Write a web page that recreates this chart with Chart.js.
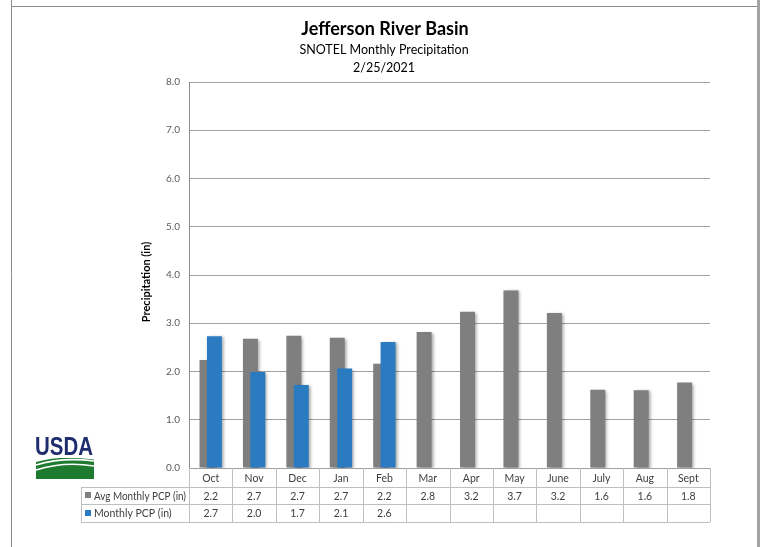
<!DOCTYPE html>
<html>
<head>
<meta charset="utf-8">
<title>Jefferson River Basin</title>
<script src="https://cdn.jsdelivr.net/npm/chart.js@4.4.1/dist/chart.umd.min.js"></script>
<style>
  html, body { margin: 0; padding: 0; background: #fff; }
  #wrap { width: 763px; height: 547px; position: relative; }
</style>
</head>
<body>
<div id="wrap"><canvas id="chart-precip" width="763" height="547"></canvas></div>
<script>
'use strict';

/* ─── Données ─────────────────────────────────────────────── */
var months     = ['Oct', 'Nov', 'Dec', 'Jan', 'Feb', 'Mar', 'Apr', 'May', 'June', 'July', 'Aug', 'Sept'];
var avgPcp     = [2.24, 2.68, 2.74, 2.70, 2.16, 2.82, 3.24, 3.68, 3.21, 1.62, 1.61, 1.77];
var monthlyPcp = [2.73, 1.99, 1.72, 2.06, 2.61, null, null, null, null, null, null, null];
var rowLabels  = ['Avg Monthly PCP (in)', 'Monthly PCP (in)'];
var titleText  = 'Jefferson River Basin';
var subTitles  = ['SNOTEL Monthly Precipitation', '2/25/2021'];
var yTitle     = 'Precipitation (in)';
var yMin = 0, yMax = 8, yStep = 1;

var GREY = '#7f7f7f';
var BLUE = '#2b7bc1';
var FONT = 'Lato, "Open Sans", sans-serif';
/* décalage des barres (fraction de catégorie) : gris à gauche, bleu à droite */
var SHIFT = 0.085;

/* points {x: index du mois, y: valeur} construits à partir des tableaux */
function toPoints(arr) {
  var pts = [];
  for (var i = 0; i < arr.length; i++) {
    if (arr[i] !== null) { pts.push({ x: i, y: arr[i] }); }
  }
  return pts;
}

/* ─── Ombre des barres ────────────────────────────────────── */
var barShadow = {
  id: 'barShadow',
  beforeDatasetsDraw: function(chart) {
    var ctx = chart.ctx;
    ctx.save();
    ctx.shadowColor = 'rgba(0,0,0,0.35)';
    ctx.shadowBlur = 3;
    ctx.shadowOffsetX = 2;
    ctx.shadowOffsetY = 1;
  },
  afterDatasetsDraw: function(chart) { chart.ctx.restore(); }
};

/* ─── Titres, cadre, logo, tableau de données ─────────────── */
var decor = {
  id: 'decor',
  beforeDraw: function(chart) {
    var ctx = chart.ctx;
    ctx.save();
    ctx.fillStyle = '#fff';
    ctx.fillRect(0, 0, chart.width, chart.height);
    ctx.restore();
  },
  afterDraw: function(chart) {
    var ctx = chart.ctx;
    var area = chart.chartArea;
    var xs = chart.scales.xm;
    var colW = area.width / months.length;
    var i;

    ctx.save();
    /* cadre */
    ctx.strokeStyle = '#8c8c8c';
    ctx.lineWidth = 1;
    ctx.beginPath();
    ctx.moveTo(11.5, 0); ctx.lineTo(11.5, chart.height);
    ctx.moveTo(11, 6.5); ctx.lineTo(757, 6.5);
    ctx.stroke();
    ctx.strokeStyle = '#a3a3a3';
    ctx.lineWidth = 3;
    ctx.beginPath();
    ctx.moveTo(758.5, 0); ctx.lineTo(758.5, chart.height);
    ctx.stroke();

    /* titres */
    ctx.fillStyle = '#000';
    ctx.textAlign = 'center';
    ctx.textBaseline = 'middle';
    ctx.font = 'bold 18px ' + FONT;
    ctx.fillText(titleText, 385, 29);
    ctx.font = '12.5px ' + FONT;
    ctx.fillText(subTitles[0], 384, 50);
    ctx.fillText(subTitles[1], 384, 68);

    /* titre axe Y */
    ctx.save();
    ctx.translate(146.5, 282);
    ctx.rotate(-Math.PI / 2);
    ctx.font = 'bold 11px ' + FONT;
    ctx.fillText(yTitle, 0, 0);
    ctx.restore();

    /* tableau */
    var top = area.bottom;
    var rows = [top, top + 18.5, top + 36, top + 53.5];
    var tLeft = 81;
    ctx.strokeStyle = '#bfbfbf';
    ctx.lineWidth = 1;
    ctx.beginPath();
    for (i = 1; i < 4; i++) {
      ctx.moveTo(tLeft, Math.round(rows[i]) + 0.5); ctx.lineTo(area.right, Math.round(rows[i]) + 0.5);
    }
    ctx.moveTo(tLeft + 0.5, Math.round(rows[1])); ctx.lineTo(tLeft + 0.5, Math.round(rows[3]));
    for (i = 0; i <= months.length; i++) {
      var bx = Math.round(xs.getPixelForValue(Math.min(i, months.length - 1)) + (i === months.length ? colW / 2 : -colW / 2)) + 0.5;
      ctx.moveTo(bx, top); ctx.lineTo(bx, Math.round(rows[3]));
    }
    ctx.stroke();

    ctx.fillStyle = '#404040';
    ctx.textAlign = 'center';
    ctx.textBaseline = 'middle';
    ctx.font = '10.5px ' + FONT;
    for (i = 0; i < months.length; i++) {
      var cx = xs.getPixelForValue(i);
      ctx.fillText(months[i], cx, (rows[0] + rows[1]) / 2 + 1);
      ctx.fillText(avgPcp[i].toFixed(1), cx, (rows[1] + rows[2]) / 2 + 1);
      if (monthlyPcp[i] !== null) {
        ctx.fillText(monthlyPcp[i].toFixed(1), cx, (rows[2] + rows[3]) / 2 + 1);
      }
    }
    /* légende dans le tableau (libellé ajusté à la colonne) */
    var sw = [GREY, BLUE];
    var maxW = area.left - 97;
    ctx.textAlign = 'left';
    for (i = 0; i < 2; i++) {
      var my = (rows[i + 1] + rows[i + 2]) / 2;
      ctx.fillStyle = sw[i];
      ctx.fillRect(85, Math.round(my - 3), 6, 6);
      ctx.fillStyle = '#404040';
      var lw = ctx.measureText(rowLabels[i]).width;
      ctx.save();
      ctx.translate(94, my + 1);
      if (lw > maxW) { ctx.scale(maxW / lw, 1); }
      ctx.fillText(rowLabels[i], 0, 0);
      ctx.restore();
    }

    /* logo USDA */
    ctx.fillStyle = '#1f2d6e';
    ctx.textAlign = 'left';
    ctx.textBaseline = 'alphabetic';
    ctx.font = 'bold 25px "Liberation Sans Narrow", "Liberation Sans", sans-serif';
    var tw = ctx.measureText('USDA').width;
    ctx.save();
    ctx.translate(35, 455);
    ctx.scale(58 / tw, 1);
    ctx.fillText('USDA', 0, 0);
    ctx.restore();
    ctx.fillStyle = '#1d7a2e';
    ctx.fillRect(36, 458, 58, 21);
    ctx.strokeStyle = '#fff';
    ctx.lineWidth = 1.6;
    ctx.beginPath();
    ctx.moveTo(36, 465); ctx.quadraticCurveTo(62, 457, 94, 461);
    ctx.moveTo(36, 470); ctx.quadraticCurveTo(64, 461, 94, 466);
    ctx.stroke();
    ctx.fillStyle = '#fff';
    ctx.beginPath();
    ctx.moveTo(36, 458); ctx.lineTo(94, 458); ctx.lineTo(94, 459.5);
    ctx.quadraticCurveTo(60, 455, 36, 462); ctx.closePath();
    ctx.fill();
    ctx.restore();
  }
};

/* axe X linéaire caché, décalé d'une fraction de catégorie */
function shiftedAxis(shift) {
  return {
    type: 'linear', display: false, offset: false,
    min: -0.5 + shift, max: months.length - 0.5 + shift,
    ticks: { stepSize: 1 }
  };
}

/* ─── Graphique ───────────────────────────────────────────── */
function renderChartPrecip() {
  var ctx = document.getElementById('chart-precip');
  if (!ctx || typeof Chart === 'undefined') { return; }
  new Chart(ctx, {
    type: 'bar',
    data: {
      datasets: [
        { label: rowLabels[0], data: toPoints(avgPcp),     backgroundColor: GREY, xAxisID: 'x',  order: 1 },
        { label: rowLabels[1], data: toPoints(monthlyPcp), backgroundColor: BLUE, xAxisID: 'x2', order: 0 }
      ]
    },
    options: {
      responsive: false,
      animation: false,
      devicePixelRatio: 1,
      layout: { padding: { top: 82, left: 133, right: 53, bottom: 79 } },
      datasets: { bar: { grouped: false, categoryPercentage: 1, barPercentage: 0.345 } },
      plugins: {
        legend: { display: false },
        tooltip: { enabled: false }
      },
      scales: {
        x:  shiftedAxis(SHIFT),
        x2: shiftedAxis(-SHIFT),
        xm: { type: 'category', labels: months, display: false, offset: true },
        y: {
          min: yMin, max: yMax,
          afterFit: function(s) { s.width = 56; },
          ticks: {
            stepSize: yStep,
            padding: 9,
            color: '#595959',
            font: { family: FONT, size: 10 },
            callback: function(v) { return Number(v).toFixed(1); }
          },
          grid: { color: '#a0a0a0', drawTicks: false },
          border: { color: '#8c8c8c' }
        }
      }
    },
    plugins: [barShadow, decor]
  });
}

document.addEventListener('DOMContentLoaded', renderChartPrecip);
</script>
</body>
</html>
